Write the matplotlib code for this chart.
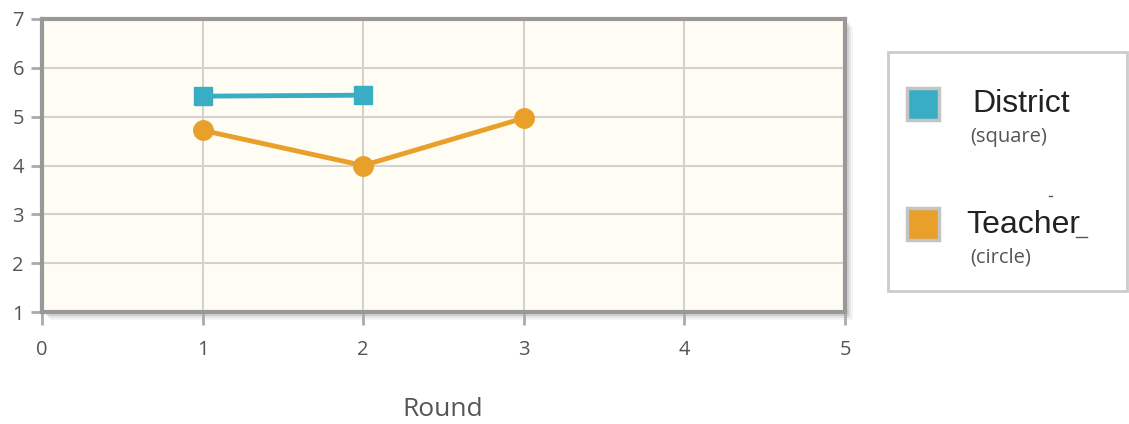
import matplotlib
matplotlib.use("Agg")
import matplotlib.pyplot as plt
from matplotlib.patches import Rectangle
from matplotlib.lines import Line2D

rounds_district = [1, 2]
district = [5.42, 5.44]
rounds_teacher = [1, 2, 3]
teacher = [4.72, 4.0, 4.97]
x_ticks = [0, 1, 2, 3, 4, 5]
y_ticks = [1, 2, 3, 4, 5, 6, 7]

BLUE = "#39adc3"
ORANGE = "#e9a02a"
TICK_FONT = "Open Sans"

W, H = 1129, 424
fig = plt.figure(figsize=(W / 100, H / 100), dpi=100)
fig.patch.set_facecolor("white")


def fx(px):
    return px / W


def fy(py):
    return 1 - py / H


left, right, top, bottom = 42, 845, 19, 312
ax = fig.add_axes([fx(left), fy(bottom), fx(right - left), (bottom - top) / H])

# soft drop shadow behind the plot frame
for off, a in [(8, 0.08), (6, 0.14), (4, 0.22), (2, 0.30)]:
    fig.patches.append(Rectangle((fx(left + off), fy(bottom + off)), fx(right - left), (bottom - top) / H,
                                 transform=fig.transFigure, facecolor="#888888", alpha=a,
                                 edgecolor="none", zorder=0))

ax.set_facecolor("#fffcf4")
ax.set_zorder(1)
ax.plot(rounds_district, district, color=BLUE, lw=3.5, marker="s", ms=13, zorder=3)
ax.plot(rounds_teacher, teacher, color=ORANGE, lw=3.5, marker="o", ms=14, zorder=3)

ax.set_xlim(0, 5)
ax.set_ylim(1, 7)
ax.set_xticks(x_ticks)
ax.set_yticks(y_ticks)
ax.grid(True, color="#d4d2cc", lw=1.5)
ax.set_axisbelow(True)
for s in ax.spines.values():
    s.set_color("#999999")
    s.set_linewidth(3)
ax.tick_params(axis="both", colors="#aaaaaa", width=2, labelcolor="#555555", labelsize=14.5)
ax.tick_params(axis="x", length=9, pad=11)
ax.tick_params(axis="y", length=8, pad=5)
for lab in ax.get_xticklabels() + ax.get_yticklabels():
    lab.set_fontfamily(TICK_FONT)

fig.text(fx(443), fy(409), "Round", ha="center", va="center", fontsize=19,
         color="#555555", family=TICK_FONT)

# legend panel
fig.patches.append(Rectangle((fx(888), fy(291)), fx(1127 - 888), (291 - 52) / H,
                             transform=fig.transFigure, facecolor="white",
                             edgecolor="#cccccc", lw=2))
for cy, col in [(103.5, BLUE), (223.5, ORANGE)]:
    fig.patches.append(Rectangle((fx(907), fy(cy + 16)), fx(32), 32 / H,
                                 transform=fig.transFigure, facecolor=col,
                                 edgecolor="#c4c4c4", lw=2.5))

fig.text(fx(972), fy(104), "District", ha="left", va="center", fontsize=23,
         color="#222222", family="Liberation Sans")
fig.text(fx(970), fy(137), "(square)", ha="left", va="center", fontsize=14.5,
         color="#555555", family=TICK_FONT)
fig.text(fx(966), fy(225), "Teacher", ha="left", va="center", fontsize=23,
         color="#222222", family="Liberation Sans")
fig.text(fx(970), fy(257), "(circle)", ha="left", va="center", fontsize=14.5,
         color="#555555", family=TICK_FONT)
fig.lines.append(Line2D([fx(1076), fx(1087)], [fy(237), fy(237)], transform=fig.transFigure,
                        color="#555555", lw=1))
fig.lines.append(Line2D([fx(1049), fx(1052)], [fy(196), fy(196)], transform=fig.transFigure,
                        color="#555555", lw=1))

fig.savefig("out.png", dpi=100)
